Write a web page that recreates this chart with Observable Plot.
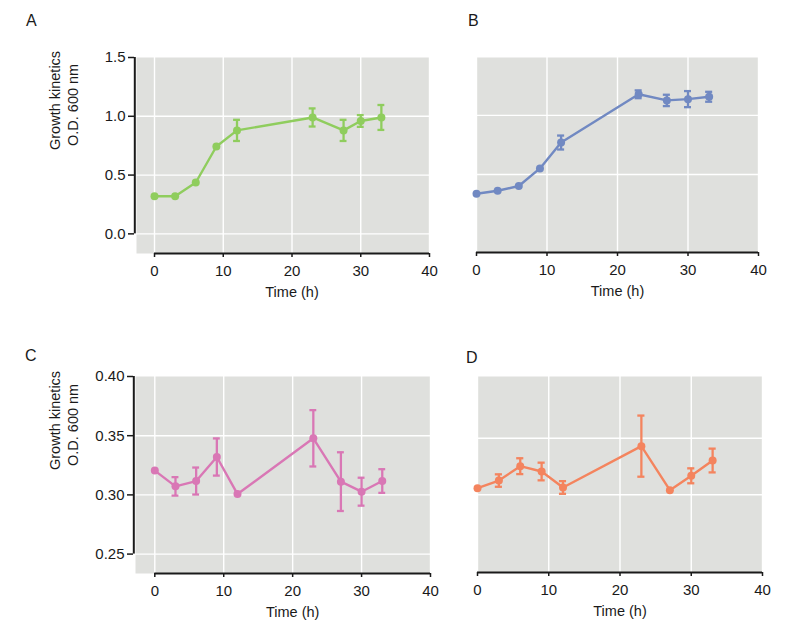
<!DOCTYPE html>
<html>
<head>
<meta charset="utf-8">
<script src="https://cdn.jsdelivr.net/npm/d3@7"></script>
<script src="https://cdn.jsdelivr.net/npm/@observablehq/plot@0.6"></script>
<style>
  html, body { margin: 0; padding: 0; background: #fff; }
  #wrap { position: relative; width: 800px; height: 635px; font-family: "Liberation Sans", Arial, sans-serif; color: #1a1a1a; }
  .panel { position: absolute; }
  .letter { position: absolute; font-size: 16px; line-height: 16px; }
</style>
</head>
<body>
<div id="wrap"></div>
<script>
// ---- data ----
const xTicks = [0, 10, 20, 30, 40];
const yTicksTop = [0, 0.5, 1.0, 1.5];
const yTicksBottom = [0.25, 0.30, 0.35, 0.40];
const xLabel = "Time (h)";
const yLabel1 = "Growth kinetics";
const yLabel2 = "O.D. 600 nm";

const hoursA = [0, 3, 6, 9, 12, 23, 27.5, 30, 33];
const odA    = [0.32, 0.32, 0.437, 0.743, 0.88, 0.99, 0.88, 0.96, 0.99];
const sdA    = [0, 0, 0, 0, 0.09, 0.077, 0.09, 0.05, 0.106];

const hoursB = [0, 3, 6, 9, 12, 23, 27, 30, 33];
const odB    = [0.337, 0.362, 0.402, 0.551, 0.770, 1.178, 1.126, 1.137, 1.157];
const sdB    = [0, 0, 0, 0, 0.059, 0.033, 0.048, 0.068, 0.042];

const hoursC = [0, 3, 6, 9, 12, 23, 27, 30, 33];
const odC    = [0.3205, 0.3072, 0.3117, 0.332, 0.3007, 0.3478, 0.3112, 0.3027, 0.3117];
const sdC    = [0, 0.0078, 0.0114, 0.0157, 0, 0.0238, 0.0248, 0.0118, 0.010];

const hoursD = [0, 3, 6, 9, 12, 23, 27, 30, 33];
const odD    = [0.3059, 0.3126, 0.3253, 0.3206, 0.3065, 0.343, 0.3041, 0.3168, 0.3303];
const sdD    = [0, 0.0055, 0.007, 0.0078, 0.0056, 0.027, 0, 0.0066, 0.0105];

const colors = {A: "#8fcd5d", B: "#7189c2", C: "#d977b5", D: "#f4845e"};

// ---- drawing ----
const wrap = document.getElementById("wrap");
const ink = "#1a1a1a";
const bg = "#dfe0dd";
const capHalf = 0.5;
const tickFont = 15;
const labelFont = 14.5;

function panel(o) {
  const rows = o.t.map((t, i) => ({t, y: o.od[i], e: o.sd[i]}));
  const err = rows.filter(d => d.e > 0);
  const xMid = (xTicks[0] + xTicks[xTicks.length - 1]) / 2;
  const marks = [
    Plot.frame({fill: bg, stroke: "none"}),
    Plot.gridX(xTicks, {stroke: "white", strokeOpacity: 1, strokeWidth: 1.4}),
    Plot.gridY(o.yGrid, {stroke: "white", strokeOpacity: 1, strokeWidth: 1.4}),
    Plot.ruleY([o.yDomain[0]], {x1: xTicks[0], x2: xTicks[xTicks.length - 1], stroke: ink, strokeWidth: 2}),
    Plot.axisX({ticks: xTicks, label: null, tickSize: 4, tickPadding: 8, stroke: ink, strokeWidth: 1.5, fill: ink, fontSize: tickFont}),
    Plot.text([xLabel], {x: xMid, frameAnchor: "bottom", dy: 43, fontSize: labelFont, fill: ink}),
    Plot.ruleX(err, {x: "t", y1: d => d.y - d.e, y2: d => d.y + d.e, stroke: o.color, strokeWidth: 2.3}),
    Plot.ruleY(err, {y: d => d.y + d.e, x1: d => d.t - capHalf, x2: d => d.t + capHalf, stroke: o.color, strokeWidth: 2.3}),
    Plot.ruleY(err, {y: d => d.y - d.e, x1: d => d.t - capHalf, x2: d => d.t + capHalf, stroke: o.color, strokeWidth: 2.3}),
    Plot.line(rows, {x: "t", y: "y", stroke: o.color, strokeWidth: 2.4}),
    Plot.dot(rows, {x: "t", y: "y", r: 4, fill: o.color})
  ];
  if (o.showY) {
    marks.push(
      Plot.ruleX([o.xDomain[0]], {y1: o.yTicks[0], y2: o.yTicks[o.yTicks.length - 1], dx: -1.7, stroke: ink, strokeWidth: 2}),
      Plot.axisY({ticks: o.yTicks, label: null, tickFormat: o.yFormat, tickSize: 6, tickPadding: 3, dx: -2, stroke: ink, strokeWidth: 1.5, fill: ink, fontSize: tickFont}),
      Plot.text([yLabel1], {frameAnchor: "left", dx: o.lab1[0], dy: o.lab1[1], rotate: -90, fontSize: labelFont, fill: ink}),
      Plot.text([yLabel2], {frameAnchor: "left", dx: o.lab2[0], dy: o.lab2[1], rotate: -90, fontSize: labelFont, fill: ink})
    );
  }
  const chart = Plot.plot({
    width: o.width, height: o.height,
    marginLeft: o.m[0], marginRight: o.m[1], marginTop: o.m[2], marginBottom: o.m[3],
    style: {fontFamily: '"Liberation Sans", Arial, sans-serif', fontSize: "15px", color: ink, background: "transparent", overflow: "visible"},
    x: {domain: o.xDomain, axis: null},
    y: {domain: o.yDomain, axis: null},
    marks
  });
  const div = document.createElement("div");
  div.className = "panel";
  div.style.left = o.left + "px";
  div.style.top = o.top + "px";
  div.appendChild(chart);
  wrap.appendChild(div);
  const l = document.createElement("div");
  l.className = "letter";
  l.textContent = o.letter;
  l.style.left = o.letterPos[0] + "px";
  l.style.top = o.letterPos[1] + "px";
  wrap.appendChild(l);
}

panel({letter: "A", letterPos: [26, 13], t: hoursA, od: odA, sd: sdA, color: colors.A,
  left: 0, top: 0, width: 440, height: 310, m: [136, 11, 57, 57],
  xDomain: [-2.62, 40], yDomain: [-0.167, 1.5], yTicks: yTicksTop, yGrid: [0, 0.5, 1.0], yFormat: d3.format(".1f"),
  showY: true, lab1: [-81, -5.5], lab2: [-63, -9.5]});

panel({letter: "B", letterPos: [468, 13], t: hoursB, od: odB, sd: sdB, color: colors.B,
  left: 440, top: 0, width: 360, height: 310, m: [36, 42, 57, 58],
  xDomain: [0, 40], yDomain: [-0.16, 1.489], yTicks: yTicksTop, yGrid: [0.5, 1.0], yFormat: d3.format(".1f"),
  showY: false});

panel({letter: "C", letterPos: [25, 348], t: hoursC, od: odC, sd: sdC, color: colors.C,
  left: 0, top: 320, width: 440, height: 315, m: [135, 10, 56, 62],
  xDomain: [-2.8, 40], yDomain: [0.2336, 0.40], yTicks: yTicksBottom, yGrid: [0.25, 0.30, 0.35], yFormat: d3.format(".2f"),
  showY: true, lab1: [-80, -5], lab2: [-62, -9]});

panel({letter: "D", letterPos: [466, 350], t: hoursD, od: odD, sd: sdD, color: colors.D,
  left: 440, top: 320, width: 360, height: 315, m: [37, 38, 56, 63],
  xDomain: [0, 40], yDomain: [0.2314, 0.4045], yTicks: yTicksBottom, yGrid: [0.30, 0.35], yFormat: d3.format(".2f"),
  showY: false});
</script>
</body>
</html>
